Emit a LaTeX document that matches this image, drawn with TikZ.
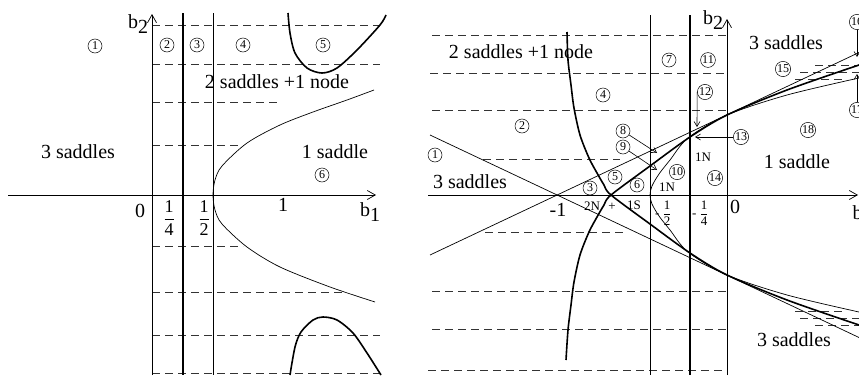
\documentclass[tikz,border=0pt]{standalone}
\usepackage{fontspec}
\setmainfont{Liberation Serif}
\usepackage{amsmath}
\usetikzlibrary{arrows.meta}

\tikzset{
  num/.style={circle, draw, line width=0.5pt, inner sep=0.3pt, minimum size=14pt, font=\fontsize{12}{12}\selectfont},
  lbl/.style={font=\fontsize{20}{24}\selectfont},
  fraclbl/.style={font=\fontsize{18}{22}\selectfont},
  smalltxt/.style={font=\fontsize{13}{15}\selectfont},
  tinyfrac/.style={font=\fontsize{13}{15}\selectfont},
  fine/.style={line width=0.7pt},
  bold/.style={line width=1.6pt},
  dashline/.style={line width=0.7pt, black!80, dash pattern=on 8pt off 5pt},
  axis/.style={line width=0.7pt, -{Straight Barb[length=8pt,width=9pt,line width=0.7pt]}},
  pointer/.style={line width=0.6pt, -{Straight Barb[length=5pt,width=6pt,line width=0.6pt]}}
}

\begin{document}
\begin{tikzpicture}[x=1pt, y=-1pt]
  \useasboundingbox (0,0) rectangle (859,375);

  % ---------- left panel ----------

  % Dashed levels
  \draw[dashline] (152,25) -- (380,25);
  \draw[dashline] (152,64) -- (380,64);
  \draw[dashline] (152,102) -- (280,102);
  \draw[dashline] (152,145) -- (243,145);
  \draw[dashline] (152,246) -- (243,246);
  \draw[dashline] (152,292) -- (343,292);
  \draw[dashline] (152,335) -- (380,335);
  \draw[dashline] (152,373) -- (380,373);

  % Vertical lines
  \draw[bold] (183,13) -- (183,375);
  \draw[fine] (213,13) -- (213,375);

  % Axes
  \draw[axis] (8,195) -- (376,195);
  \draw[axis] (152,375) -- (152,14);

  % Curves
  \draw[fine] plot[smooth] coordinates {(375,302) (330,287) (280,267) (247,247) (222,224)
    (215,210) (213,195) (215,180) (222,166) (247,143) (280,125) (313,112) (347,100) (374,90)};
  \draw[bold] plot[smooth] coordinates {(288,13) (290,33) (295,53) (307,68) (322,73)
    (337,68) (357,50) (380,25) (386,15)};
  \draw[bold] plot[smooth] coordinates {(290,375) (295,347) (301,332) (313,320) (323,317)
    (337,320) (353,333) (367,353) (381,375)};

  % Region numbers
  \node[num] (l1) at (95,46) {1};
  \node[num] (l2) at (167,45) {2};
  \node[num] (l3) at (197,45) {3};
  \node[num] (l4) at (243,45) {4};
  \node[num] (l5) at (323,45) {5};
  \node[num] (l6) at (322,175) {6};

  % Texts
  \node[lbl] (sa) at (277,82) {2 saddles +1 node};
  \node[lbl] (sb) at (78,152) {3 saddles};
  \node[lbl] (sc) at (335,152) {1 saddle};
  \node[lbl] (xl) at (370,212) {b\raisebox{-0.45ex}{1}};
  \node[lbl] (yl) at (138,24) {b\raisebox{-0.45ex}{2}};
  \node[lbl] (zl) at (140,211) {0};
  \node[fraclbl] (ql) at (169,218) {$\dfrac{\text{1}}{\text{4}}$};
  \node[fraclbl] (hl) at (204,218) {$\dfrac{\text{1}}{\text{2}}$};
  \node[lbl] (ul) at (283,205) {1};

  % ---------- right panel ----------

  % Dashed levels
  \draw[dashline] (432,35) -- (727,35);
  \draw[dashline] (430,73) -- (727,73);
  \draw[dashline] (432,110) -- (727,110);
  \draw[dashline] (483,159) -- (620,159);
  \draw[dashline] (485,232) -- (625,232);
  \draw[dashline] (432,291) -- (727,291);
  \draw[dashline] (432,329) -- (727,329);
  \draw[dashline] (428,370) -- (727,370);
  \draw[dashline] (815,65) -- (859,65);
  \draw[dashline] (800,72) -- (859,72);
  \draw[dashline] (795,79) -- (845,79);
  \draw[dashline] (795,311) -- (845,311);
  \draw[dashline] (800,318) -- (859,318);
  \draw[dashline] (815,325) -- (859,325);

  % Vertical lines
  \draw[fine] (650,15) -- (650,375);
  \draw[bold] (690,15) -- (690,375);

  % Axes
  \draw[axis] (428,195) -- (858,195);
  \draw[axis] (727,375) -- (727,19);

  % Straight lines through -1
  \draw[fine] (430,135) -- (859,337.5);
  \draw[fine] (430,255) -- (859,52.5);

  % Thin curve
  \draw[fine] plot[smooth] coordinates {(859,78) (787,95) (727,115) (688,138) (670,160)
    (659,174) (652,186) (650,195) (652,204) (659,216) (670,230) (688,252) (727,275)
    (787,295) (859,312)};

  % Bold curves
  \draw[bold] plot[smooth] coordinates {(567,32) (568,60) (571,85) (574,108) (580,135)
    (589,158) (597,173) (604,185) (611,195) (650,224) (690,253) (727,275) (787,300) (859,325)};
  \draw[bold] plot[smooth] coordinates {(566,360) (568,330) (571,305) (574,282) (580,255)
    (589,232) (597,217) (604,205) (611,195) (650,166) (690,137) (727,115) (787,90) (859,65)};

  % Region numbers
  \node[num] (r1) at (435,155) {1};
  \node[num] (r2) at (522,126) {2};
  \node[num] (r3) at (590,188) {3};
  \node[num] (r4) at (603,95) {4};
  \node[num] (r5) at (615,177) {5};
  \node[num] (r6) at (637,185) {6};
  \node[num] (r7) at (669,60) {7};
  \node[num] (r8) at (623,131) {8};
  \node[num] (r9) at (623,147) {9};
  \node[num] (r10) at (677,172) {10};
  \node[num] (r11) at (708,60) {11};
  \node[num] (r12) at (705,92) {12};
  \node[num] (r13) at (741,137) {13};
  \node[num] (r14) at (715,178) {14};
  \node[num] (r15) at (783,69) {15};
  \node[num] (r16) at (857,22) {16};
  \node[num] (r17) at (857,110) {17};
  \node[num] (r18) at (808,130) {18};

  % Pointers
  \coordinate (t8) at (657,153);
  \coordinate (t9) at (657,170);
  \coordinate (t12) at (697,127);
  \coordinate (t13) at (695,137);
  \coordinate (t16) at (857,57);
  \coordinate (t17) at (857,74);
  \draw[pointer] (r8) -- (t8);
  \draw[pointer] (r9) -- (t9);
  \draw[pointer] (r12.west) -- (t12);
  \draw[pointer] (r13) -- (t13);
  \draw[pointer] (r16) -- (t16);
  \draw[pointer] (r17) -- (t17);

  % Texts
  \node[lbl] (ra) at (521,52) {2 saddles +1 node};
  \node[lbl] (rb) at (470,182) {3 saddles};
  \node[lbl] (rc) at (786,43) {3 saddles};
  \node[lbl] (rd) at (797,162) {1 saddle};
  \node[lbl] (re) at (794,340) {3 saddles};
  \node[smalltxt] (n1) at (667,187) {1N};
  \node[smalltxt] (n2) at (703,157) {1N};
  \node[smalltxt] (n3) at (592,206) {2N};
  \node[smalltxt] (n4) at (634,205) {1S};
  \node[smalltxt] (n5) at (612,207) {+};
  \node[lbl] (mr) at (558,210) {-1};
  \node[lbl] (zr) at (735,207) {0};
  \node[tinyfrac, anchor=west, inner sep=0pt] (hr) at (655,213) {- $\dfrac{\text{1}}{\text{2}}$};
  \node[tinyfrac, anchor=west, inner sep=0pt] (qr) at (692,213) {- $\dfrac{\text{1}}{\text{4}}$};
  \node[lbl] (yr) at (713,20) {b\raisebox{-0.45ex}{2}};
  \node[lbl, anchor=west] (xr) at (849,215) {b\raisebox{-0.45ex}{1}};
\end{tikzpicture}
\end{document}
